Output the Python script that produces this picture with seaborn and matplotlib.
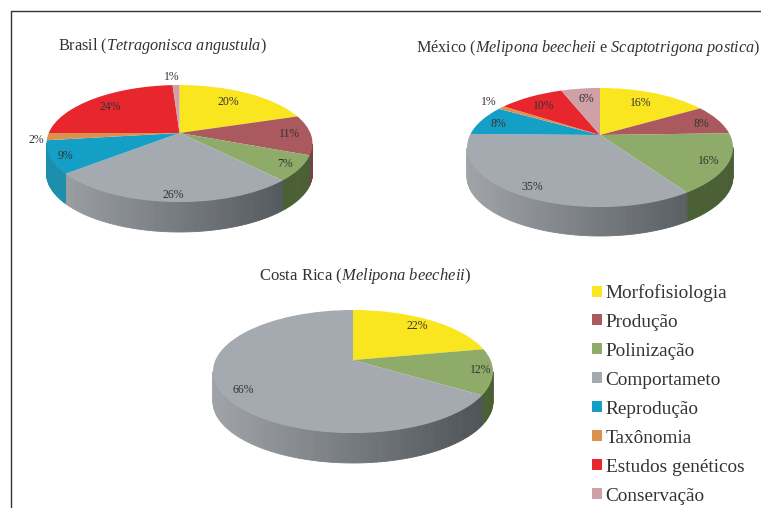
import matplotlib
matplotlib.use("Agg")
import matplotlib.pyplot as plt
from matplotlib.colors import to_rgb
from matplotlib.patches import Patch
from matplotlib.transforms import Transform
import numpy as np
import seaborn as sns

sns.set_style("white")
plt.rcParams['font.family'] = ['Liberation Serif', 'DejaVu Serif']
plt.rcParams['mathtext.fontset'] = 'custom'
plt.rcParams['mathtext.rm'] = 'Liberation Serif'
plt.rcParams['mathtext.it'] = 'Liberation Serif:italic'

# Data
categories = ["Morfofisiologia", "Produção", "Polinização", "Comportameto",
              "Reprodução", "Taxônomia", "Estudos genéticos", "Conservação"]
brasil = [20, 11, 7, 26, 9, 2, 24, 1]
mexico = [16.3, 8.2, 16.2, 34.6, 8.2, 1.0, 9.7, 5.8]
costa_rica = [22, 0, 12, 66, 0, 0, 0, 0]
title_brasil = r"Brasil ($\mathit{Tetragonisca\ angustula}$)"
title_mexico = r"México ($\mathit{Melipona\ beecheii}$ e $\mathit{Scaptotrigona\ postica}$)"
title_costa_rica = r"Costa Rica ($\mathit{Melipona\ beecheii}$)"

# Style
colors = sns.color_palette(["#FAE61E", "#AA5A5F", "#8FAB69", "#A5A9B0",
                            "#149FC6", "#DC9150", "#E8262D", "#CFA0A5"])
side_colors = ["#B8A818", "#7A4045", "#4A5F33", "#A5A9B0", "#1A8EAB", "#A06A38", "#A81C20", "#94737A"]
text_color = "#333333"


class Tilt(Transform):
    # perspective view of the unit circle, the apex is not at the ellipse middle
    input_dims = 2
    output_dims = 2
    is_separable = False
    has_inverse = False

    def __init__(self, x0, y0, rx, up, down):
        super().__init__()
        self.x0, self.y0 = x0, y0
        self.k = (down - up) / (down + up)
        self.c = up * (1 + self.k)
        self.a = rx * np.sqrt(1 - self.k ** 2)

    def transform_non_affine(self, values):
        values = np.asarray(values, dtype=float)
        w = 1 + self.k * values[:, 1]
        return np.column_stack([self.x0 + self.a * values[:, 0] / w,
                                self.y0 - self.c * values[:, 1] / w])


def draw_pie(ax, values, x0, y0, rx, up, down, depth, label_pos):
    tilt = Tilt(x0, y0, rx, up, down)
    wedges, _, autotexts = ax.pie(values, colors=colors, startangle=90, counterclock=False,
                                  autopct=lambda p: f"{p:.0f}%" if p > 0 else "",
                                  wedgeprops={'linewidth': 0, 'zorder': 3})
    for wedge in wedges:
        wedge.set_transform(tilt + ax.transData)
        wedge.set_clip_on(False)

    # Side wall, only the part facing the viewer
    for i, wedge in enumerate(wedges):
        if wedge.theta2 - wedge.theta1 <= 0:
            continue
        steps = max(2, int((wedge.theta2 - wedge.theta1) / 1.5))
        angles = np.radians(np.linspace(wedge.theta1, wedge.theta2, steps + 1))
        rim = tilt.transform_non_affine(np.column_stack([np.cos(angles), np.sin(angles)]))
        for j in range(steps):
            if np.sin((angles[j] + angles[j + 1]) / 2) > -tilt.k:
                continue
            xs = [rim[j, 0], rim[j + 1, 0], rim[j + 1, 0], rim[j, 0]]
            ys = [rim[j, 1], rim[j + 1, 1], rim[j + 1, 1] + depth, rim[j, 1] + depth]
            c = np.array(to_rgb(side_colors[i]))
            if categories[i] == "Comportameto":
                # light on the left, dark on the right
                f = (rim[j, 0] - (x0 - rx)) / (2 * rx)
                c = np.array(to_rgb("#A0A4A8")) * (1 - f) + np.array(to_rgb("#4B5055")) * f
            ax.fill(xs, ys, color=c, lw=0.6, zorder=2, clip_on=False)

    shown = [t for t in autotexts if t.get_text()]
    for text, pos in zip(shown, label_pos):
        text.set_position(pos)
        text.set_fontsize(8.5)
        text.set_color(text_color)
        text.set_ha("center")
        text.set_va("center")
        text.set_zorder(5)


fig, ax = plt.subplots(figsize=(7.61, 5.08), dpi=100)
fig.subplots_adjust(0, 0, 1, 1)

draw_pie(ax, brasil, 179.5, 133, 133, 48, 69, 30,
         [(228, 102), (290, 134), (285, 164), (173, 195), (65, 156), (36, 140), (110, 107), (172, 77)])
draw_pie(ax, mexico, 600, 135, 133, 47, 72, 29,
         [(641, 103), (701, 124), (709, 161), (532, 187), (498, 124), (489, 102), (544, 106), (586, 99)])
draw_pie(ax, costa_rica, 353, 360, 140, 50, 73, 30,
         [(417, 326), (481, 370), (243, 390)])

ax.set_aspect('auto')
ax.set_xlim(0, 761)
ax.set_ylim(508, 0)
ax.set_axis_off()

# Titles
ax.text(58, 46, title_brasil, fontsize=11.7, color=text_color, va="center")
ax.text(416, 48, title_mexico, fontsize=11.7, color=text_color, va="center")
ax.text(259, 276, title_costa_rica, fontsize=12, color=text_color, va="center")

# Frame
ax.plot([11, 11, 761], [508, 11, 11], color="#333333", lw=1, clip_on=False)

# Legend
handles = [Patch(facecolor=c, edgecolor="none") for c in colors]
ax.legend(handles, categories, loc="upper left", bbox_to_anchor=(592, 284), bbox_transform=ax.transData,
          frameon=False, fontsize=13.9, labelcolor=text_color, handlelength=0.5, handleheight=0.5,
          handletextpad=0.2, labelspacing=0.62, borderpad=0, borderaxespad=0)

plt.savefig("out.png", dpi=100)
